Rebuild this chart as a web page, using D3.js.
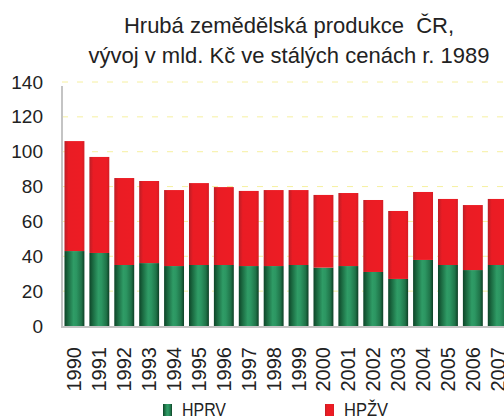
<!DOCTYPE html>
<html>
<head>
<meta charset="utf-8">
<script src="https://cdn.jsdelivr.net/npm/d3@7"></script>
<style>
  body { margin: 0; background: #fff; }
  svg { font-family: "Liberation Sans", Arial, sans-serif; }
</style>
</head>
<body>
<div id="chart"></div>
<script>
// years and the two series (mld. Kč, stálé ceny 1989)
var years = ["1990","1991","1992","1993","1994","1995","1996","1997","1998",
             "1999","2000","2001","2002","2003","2004","2005","2006","2007"];
var hprv = [43.0, 41.9, 35.0, 36.1, 34.4, 35.0, 35.0, 34.4, 34.4,
            35.0, 33.5, 34.4, 31.0, 27.0, 37.9, 35.0, 32.1, 35.0];
var hpzv = [63.1, 55.1, 49.9, 47.1, 43.6, 47.0, 44.7, 43.1, 43.6,
            43.0, 41.7, 41.9, 41.3, 39.0, 39.0, 37.9, 37.3, 37.9];
var yTicks = [0, 20, 40, 60, 80, 100, 120, 140];
var seriesNames = ["HPRV", "HPŽV"];

var W = 504, H = 416;
var margin = {left: 62, top: 82, bottom: 90};

var svg = d3.select('#chart').append('svg')
  .attr('width', W).attr('height', H);

var defs = svg.append('defs');
var gGreen = defs.append('linearGradient').attr('id', 'gGreen')
  .attr('x1', 0).attr('x2', 1).attr('y1', 0).attr('y2', 0);
[[0, '#0e4428'], [0.18, '#1b6a41'], [0.45, '#2f9c66'], [0.6, '#2c9662'], [0.85, '#1f7348'], [1, '#0d3f25']]
  .forEach(s => gGreen.append('stop').attr('offset', s[0]).attr('stop-color', s[1]));
var gRed = defs.append('linearGradient').attr('id', 'gRed')
  .attr('x1', 0).attr('x2', 1).attr('y1', 0).attr('y2', 0);
[[0, '#bb1e26'], [0.2, '#ea1c24'], [0.85, '#ed1c24'], [1, '#d41d25']]
  .forEach(s => gRed.append('stop').attr('offset', s[0]).attr('stop-color', s[1]));

var x = d3.scaleBand()
  .domain(years)
  .range([margin.left, margin.left + years.length * 24.9])
  .paddingInner(0.2)
  .paddingOuter(0.1);

var y = d3.scaleLinear()
  .domain([0, 140])
  .range([H - margin.bottom, margin.top]);

// grid
svg.append('g').selectAll('line')
  .data(yTicks.filter(d => d > 0))
  .join('line')
    .attr('x1', margin.left).attr('x2', W)
    .attr('y1', d => y(d)).attr('y2', d => y(d))
    .attr('stroke', '#f6f0a0')
    .attr('stroke-width', 1)
    .attr('stroke-dasharray', '6,9');

// y axis
var yAxis = svg.append('g')
  .attr('transform', 'translate(' + margin.left + ',0)')
  .call(d3.axisLeft(y).tickValues(yTicks).tickSize(0).tickPadding(19));
yAxis.select('.domain').attr('stroke', '#c4c4c4').attr('stroke-width', 2)
  .attr('d', 'M0,' + (y(140) + 4) + 'V' + y(0));
yAxis.selectAll('text')
  .attr('font-size', 19).attr('fill', '#222')
  .attr('font-family', '"Liberation Sans", Arial, sans-serif');

// stacked bars
var rows = years.map((yr, i) => ({year: yr, HPRV: hprv[i], "HPŽV": hpzv[i]}));
var stacked = d3.stack().keys(seriesNames)(rows);
var fills = ['url(#gGreen)', 'url(#gRed)'];

svg.append('g').selectAll('g')
  .data(stacked)
  .join('g')
    .attr('fill', (d, i) => fills[i])
  .selectAll('rect')
  .data(d => d)
  .join('rect')
    .attr('x', d => x(d.data.year))
    .attr('width', x.bandwidth())
    .attr('y', d => y(d[1]))
    .attr('height', d => y(d[0]) - y(d[1]));

// x baseline
svg.append('line')
  .attr('x1', margin.left - 1).attr('x2', W)
  .attr('y1', y(0) + 1).attr('y2', y(0) + 1)
  .attr('stroke', '#c4c4c4').attr('stroke-width', 2);

// x labels (rotated)
svg.append('g').selectAll('text')
  .data(years)
  .join('text')
    .attr('transform', d => 'translate(' + (x(d) + x.bandwidth() / 2 + 7) + ',' + (y(0) + 21) + ') rotate(-90)')
    .attr('text-anchor', 'end')
    .attr('font-size', 20)
    .attr('fill', '#222')
    .text(d => d);

// title
var title = svg.append('text')
  .attr('x', 289).attr('text-anchor', 'middle')
  .attr('font-size', 22).attr('fill', '#222')
  .style('white-space', 'pre');
title.append('tspan').attr('x', 289).attr('y', 33).text('Hrubá zemědělská produkce  ČR,');
title.append('tspan').attr('x', 289).attr('y', 63).text('vývoj v mld. Kč ve stálých cenách r. 1989');

// legend
var legend = svg.append('g').selectAll('g')
  .data(seriesNames)
  .join('g')
    .attr('transform', (d, i) => 'translate(' + (163 + i * 162) + ',404)');
legend.append('rect')
  .attr('width', 9).attr('height', 12)
  .attr('fill', (d, i) => fills[i]);
legend.append('text')
  .attr('x', 19).attr('y', 12)
  .attr('font-size', 19).attr('fill', '#222')
  .attr('textLength', 44).attr('lengthAdjust', 'spacingAndGlyphs')
  .text(d => d);
</script>
</body>
</html>
